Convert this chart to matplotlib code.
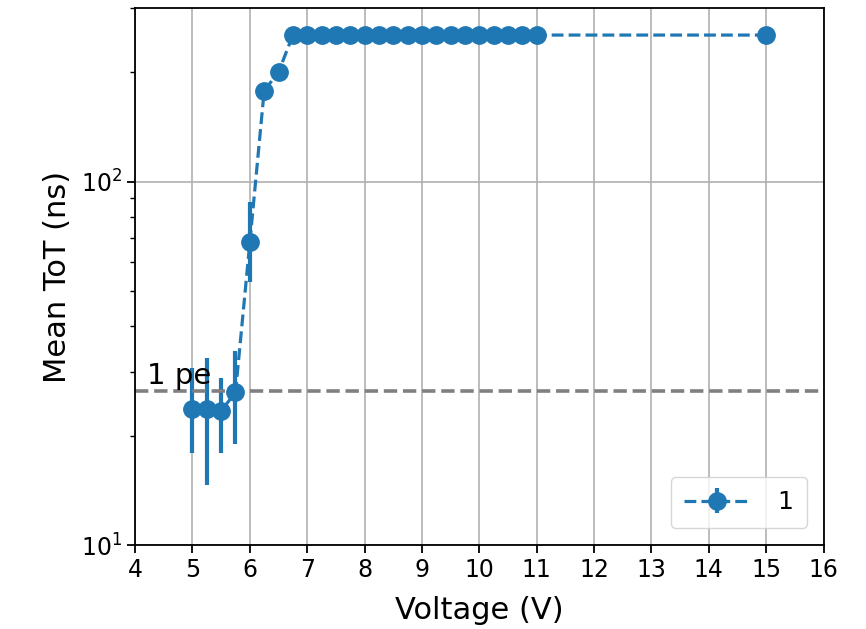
import matplotlib
matplotlib.use("Agg")
import matplotlib.pyplot as plt
import numpy as np

voltage = [5.0, 5.25, 5.5, 5.75, 6.0, 6.25, 6.5, 6.75, 7.0, 7.25, 7.5, 7.75, 8.0,
           8.25, 8.5, 8.75, 9.0, 9.25, 9.5, 9.75, 10.0, 10.25, 10.5, 10.75, 11.0, 15.0]
mean_tot = [23.6, 23.6, 23.4, 26.3, 68.0, 178.0, 200.0] + [253.0] * 18 + [253.0]
err_lo = [5.7, 9.0, 5.5, 7.3, 15.0, 3.0, 3.0] + [0.5] * 18 + [0.5]
err_hi = [7.0, 9.2, 5.4, 7.8, 20.0, 3.0, 3.0] + [0.5] * 18 + [0.5]
one_pe = 26.5
series_label = "1"

fig = plt.figure(figsize=(8.66, 6.29), dpi=100)
ax = fig.add_axes([0.156, 0.1335, 0.795, 0.8535])
ax.errorbar(voltage, mean_tot, yerr=[err_lo, err_hi], fmt='o--', color='#1f77b4',
            markersize=12.5, linewidth=2.3, elinewidth=3, label=series_label)
ax.axhline(one_pe, color='gray', linestyle='--', linewidth=2.6)
ax.text(4.2, one_pe * 1.01, "1 pe", fontsize=21, va='bottom', ha='left')
ax.set_yscale('log')
ax.set_ylim(10, 300)
ax.set_xlim(4, 16)
ax.set_xticks(np.arange(4, 17, 1))
ax.grid(True, which='major', color='#b0b0b0', linewidth=1.2)
ax.tick_params(labelsize=17, width=1.3, length=6)
ax.tick_params(which='minor', width=1.0, length=3.5)
for s in ax.spines.values():
    s.set_linewidth(1.3)
ax.set_xlabel("Voltage (V)", fontsize=22, labelpad=10)
ax.set_ylabel("Mean ToT (ns)", fontsize=22, labelpad=6)
ax.legend(loc='lower right', fontsize=18, handlelength=2.6, borderpad=0.55,
          borderaxespad=0.68, handletextpad=1.1)
fig.savefig("out.png", dpi=100)
